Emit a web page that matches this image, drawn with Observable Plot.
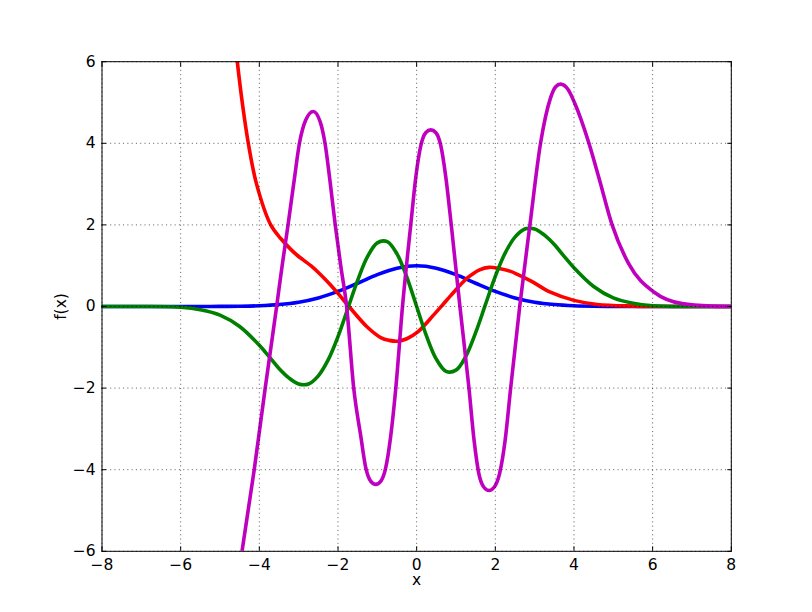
<!DOCTYPE html>
<html>
<head>
<meta charset="utf-8">
<script src="https://cdn.jsdelivr.net/npm/d3@7"></script>
<script src="https://cdn.jsdelivr.net/npm/@observablehq/plot@0.6"></script>
<style>
  body { margin: 0; background: #fff; }
  #chart svg { display: block; }
</style>
</head>
<body>
<div id="chart"></div>
<script>
// ---- tick values ----
const xTicks = [-8, -6, -4, -2, 0, 2, 4, 6, 8];
const yTicks = [-6, -4, -2, 0, 2, 4, 6];

// ---- blue curve ----
const blueX = [-8, -7, -6, -5.5, -5, -4.5, -4, -3.5, -3, -2.5, -2, -1.5, -1, -0.5, 0,
               0.5, 1, 1.5, 2, 2.5, 3, 3.5, 4, 4.5, 5, 5.5, 6, 7, 8];
const blueY = [0, 0, 0, 0.001, 0.002, 0.006, 0.018, 0.047, 0.105, 0.21, 0.37, 0.57, 0.78, 0.94, 1.0,
               0.94, 0.78, 0.57, 0.37, 0.21, 0.105, 0.047, 0.018, 0.006, 0.002, 0.001, 0, 0, 0];

// ---- green curve ----
const greenX = [-8, -7, -6, -5.5, -5, -4.5, -4, -3.75, -3.5, -3.25, -3, -2.75, -2.5, -2.25, -2, -1.75,
                -1.5, -1.25, -1, -0.75, -0.5, -0.25, 0, 0.25, 0.5, 0.75, 1, 1.25, 1.5, 1.75, 2,
                2.25, 2.5, 2.75, 3, 3.25, 3.5, 3.75, 4, 4.5, 5, 5.5, 6, 7, 8];
const greenY = [0, 0, -0.02, -0.08, -0.21, -0.49, -0.95, -1.23, -1.52, -1.75, -1.9, -1.9, -1.7, -1.31, -0.74, -0.05,
                0.64, 1.22, 1.56, 1.59, 1.29, 0.72, 0, -0.72, -1.29, -1.59, -1.56, -1.22, -0.64, 0.05, 0.74,
                1.31, 1.7, 1.9, 1.9, 1.75, 1.52, 1.23, 0.95, 0.49, 0.21, 0.08, 0.02, 0, 0];

// ---- red curve ----
const redX = [-4.7, -4.56, -4.42, -4.28, -4.07, -3.71, -3.45, -3.2, -3.03, -2.69, -2.44, -2.2, -2.0, -1.72,
              -1.25, -0.9, -0.7, -0.49, -0.25, 0.02, 0.44, 0.67, 0.86, 1.29, 1.6, 1.84, 2.1, 2.39, 2.56, 2.9,
              3.4, 4.0, 4.59, 5.5, 6.5, 8];
const redY = [7.3, 6, 4.9, 4, 3, 2, 1.66, 1.4, 1.25, 1.0, 0.78, 0.54, 0.32, 0,
              -0.51, -0.77, -0.83, -0.85, -0.79, -0.63, -0.2, 0.05, 0.26, 0.7, 0.9, 0.96, 0.93, 0.86, 0.79, 0.63,
              0.35, 0.15, 0.05, 0.01, 0, 0];

// ---- magenta curve ----
const magX = [-4.6, -4.44, -4.13, -3.85, -3.56,
              -3.42, -3.27, -3.12, -2.98, -2.82, -2.63, -2.45, -2.33, -2.2, -2.07, -1.93, -1.78,
              -1.6, -1.42, -1.29, -1.17, -1.04, -0.91, -0.79, -0.66, -0.53, -0.36,
              -0.15, -0.02, 0.11, 0.23, 0.36, 0.49, 0.61, 0.74, 0.88, 1.1,
              1.33, 1.46, 1.58, 1.71, 1.84, 1.97, 2.11, 2.25, 2.39, 2.62,
              2.88, 3.15, 3.4, 3.53, 3.66, 3.85, 4.02, 4.38, 4.63, 4.97, 5.39, 6.04, 6.75, 7.5, 8];
const magY = [-7.1, -6, -4, -2, 0,
              1.0, 2, 3.05, 4, 4.57, 4.78, 4.52, 4, 3.05, 2, 1.0, 0,
              -2, -3.18, -3.97, -4.28, -4.36, -4.28, -3.97, -3.18, -2, 0,
              2, 3.18, 3.96, 4.26, 4.33, 4.26, 3.96, 3.18, 2, 0,
              -2, -3.28, -4.09, -4.43, -4.51, -4.43, -4.09, -3.28, -2, 0,
              2, 4, 5.1, 5.38, 5.45, 5.32, 4.98, 4, 3.17, 2, 1.05, 0.35, 0.07, 0.01, 0];

const series = [
  {name: "blue", color: "#0000ff", xs: blueX, ys: blueY, curve: "catmull-rom"},
  {name: "red", color: "#ff0000", xs: redX, ys: redY, curve: "catmull-rom"},
  {name: "green", color: "#008000", xs: greenX, ys: greenY, curve: "catmull-rom"},
  {name: "magenta", color: "#bf00bf", xs: magX, ys: magY, curve: "monotone-x"}
];

const fmt = d => (d < 0 ? "\u2212" : "") + Math.abs(d);
const gridStyle = {stroke: "black", strokeOpacity: 1, strokeWidth: 0.6, strokeDasharray: "1.1,3.2"};
const FS = 15.5;

const lineMarks = series.map(s =>
  Plot.line(s.xs.map((x, i) => ({x, y: s.ys[i]})), {
    x: "x", y: "y", stroke: s.color, strokeWidth: 3.6, curve: s.curve, clip: true
  })
);

const chart = Plot.plot({
  width: 812,
  height: 612,
  marginLeft: 101.5,
  marginRight: 81.2,
  marginTop: 61.2,
  marginBottom: 61.2,
  style: {fontFamily: "'DejaVu Sans', sans-serif", fontSize: FS + "px", background: "white", color: "black"},
  x: {domain: [-8, 8]},
  y: {domain: [-6, 6]},
  marks: [
    ...lineMarks,
    Plot.gridX(xTicks, gridStyle),
    Plot.gridY(yTicks, gridStyle),
    Plot.axisX(xTicks, {anchor: "bottom", tickSize: 0, tickPadding: 8, tickFormat: fmt, label: null, fontSize: FS}),
    Plot.axisY(yTicks, {anchor: "left", tickSize: 0, tickPadding: 6.5, tickFormat: fmt, label: null, fontSize: FS}),
    Plot.axisX(xTicks, {anchor: "bottom", tickSize: -4.5, text: null, label: null}),
    Plot.axisX(xTicks, {anchor: "top", tickSize: -4.5, text: null, label: null}),
    Plot.axisY(yTicks, {anchor: "left", tickSize: -4.5, text: null, label: null}),
    Plot.axisY(yTicks, {anchor: "right", tickSize: -4.5, text: null, label: null}),
    Plot.frame({stroke: "black", strokeWidth: 1}),
    Plot.text(["x"], {text: d => d, frameAnchor: "bottom", dy: 29, textAnchor: "middle", lineAnchor: "middle", fontSize: FS}),
    Plot.text(["f(x)"], {text: d => d, frameAnchor: "left", dx: -41, rotate: -90, textAnchor: "middle", lineAnchor: "middle", fontSize: FS})
  ]
});

document.getElementById("chart").appendChild(chart);
</script>
</body>
</html>
